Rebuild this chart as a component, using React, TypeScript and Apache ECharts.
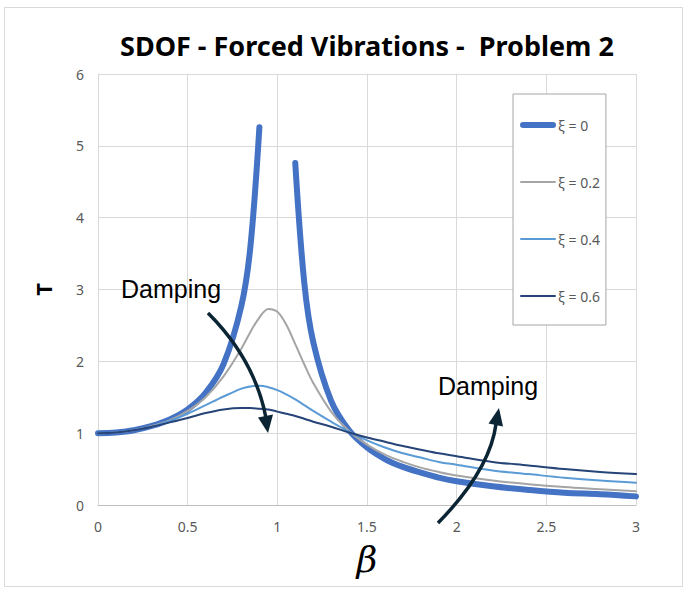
import React, { useEffect, useRef } from "react";
import * as echarts from "echarts";

// β values for the damped curves
const beta = [0, 0.1, 0.2, 0.3, 0.4, 0.5, 0.6, 0.7, 0.8, 0.85, 0.9, 0.95, 1.0, 1.05, 1.1, 1.15, 1.2, 1.3, 1.4, 1.5, 1.6, 1.7, 1.8, 1.9, 2.0, 2.2, 2.4, 2.6, 2.8, 3.0];
// β values for the undamped curve (gap at resonance)
const betaU = [0, 0.1, 0.2, 0.3, 0.4, 0.5, 0.6, 0.7, 0.8, 0.85, 0.9, 1.0, 1.1, 1.15, 1.2, 1.3, 1.4, 1.5, 1.6, 1.7, 1.8, 1.9, 2.0, 2.2, 2.4, 2.6, 2.8, 3.0];

const tXi0 = [1.0, 1.01, 1.04, 1.1, 1.19, 1.33, 1.56, 1.96, 2.78, 3.6, 5.26, null, 4.76, 3.1, 2.27, 1.45, 1.04, 0.8, 0.64, 0.53, 0.45, 0.38, 0.33, 0.26, 0.21, 0.17, 0.15, 0.12];
const tXi02 = [1.0, 1.01, 1.04, 1.1, 1.18, 1.31, 1.5, 1.79, 2.18, 2.41, 2.61, 2.73, 2.69, 2.51, 2.24, 1.96, 1.7, 1.3, 1.03, 0.84, 0.7, 0.6, 0.52, 0.46, 0.41, 0.34, 0.29, 0.25, 0.22, 0.19];
const tXi04 = [1.0, 1.01, 1.04, 1.09, 1.17, 1.27, 1.39, 1.51, 1.62, 1.65, 1.66, 1.64, 1.6, 1.54, 1.47, 1.39, 1.31, 1.16, 1.02, 0.9, 0.8, 0.72, 0.66, 0.6, 0.56, 0.48, 0.43, 0.38, 0.34, 0.31];
const tXi06 = [1.0, 1.01, 1.04, 1.09, 1.15, 1.21, 1.28, 1.33, 1.35, 1.35, 1.34, 1.33, 1.3, 1.27, 1.24, 1.2, 1.16, 1.09, 1.01, 0.94, 0.88, 0.82, 0.77, 0.72, 0.68, 0.6, 0.55, 0.5, 0.46, 0.43];

const seriesNames = ["ξ = 0", "ξ = 0.2", "ξ = 0.4", "ξ = 0.6"];
const xTicks = ["0", "0.5", "1", "1.5", "2", "2.5", "3"];
const yTicks = ["0", "1", "2", "3", "4", "5", "6"];

const titleText = "SDOF - Forced Vibrations -  Problem 2";
const annotation = "Damping";

const pair = (xs: number[], ys: (number | null)[]) =>
  xs.map((x, i) => [x, ys[i] === null ? "-" : ys[i]]);

export default function App() {
  const ref = useRef<HTMLDivElement>(null);
  useEffect(() => {
    if (!ref.current) return;
    const chart = echarts.init(ref.current, null, { renderer: "svg" });
    const arrowColor = "#0B2535";
    const lineSeries = (name: string, data: any[], color: string, width: number, z: number) => ({
      name,
      type: "line",
      data,
      smooth: 0.35,
      symbol: "none",
      showSymbol: false,
      connectNulls: false,
      z,
      lineStyle: { color, width, cap: "round" },
      itemStyle: { color },
    });
    const thickIcon = "path://M3,0L33,0A3,3,0,0,1,33,6L3,6A3,3,0,0,1,3,0Z";
    const thinIcon = "path://M1,0L35,0A1,1,0,0,1,35,2L1,2A1,1,0,0,1,1,0Z";
    chart.setOption({
      animation: false,
      backgroundColor: "#ffffff",
      title: {
        text: titleText,
        left: 115,
        top: 27,
        textStyle: { fontFamily: "Noto Sans", fontWeight: "bold", fontSize: 27, color: "#000000" },
      },
      legend: {
        orient: "vertical",
        left: 513,
        top: 94,
        padding: [24, 6, 22, 7],
        itemGap: 43,
        itemWidth: 36,
        itemHeight: 14,
        backgroundColor: "#ffffff",
        borderColor: "#A6A6A6",
        borderWidth: 1,
        textStyle: { fontFamily: "Noto Sans", fontSize: 14, color: "#595959", padding: [0, 0, 0, -3] },
        data: seriesNames.map((n, i) => ({ name: n, icon: i === 0 ? thickIcon : thinIcon })),
      },
      grid: { left: 98, right: 51, top: 74, bottom: 87, containLabel: false },
      xAxis: {
        type: "value",
        min: 0,
        max: 3,
        interval: 0.5,
        name: "β",
        nameLocation: "middle",
        nameGap: 36,
        nameTextStyle: { fontFamily: "DejaVu Serif", fontStyle: "italic", fontSize: 36, color: "#000000" },
        axisLine: { show: true, lineStyle: { color: "#BFBFBF", width: 1 } },
        axisTick: { show: false },
        axisLabel: {
          margin: 14,
          fontFamily: "Noto Sans",
          fontSize: 14,
          color: "#595959",
          formatter: (v: number) => xTicks[Math.round(v * 2)] ?? String(v),
        },
        splitLine: { show: true, lineStyle: { color: "#D9D9D9", width: 1 } },
      },
      yAxis: {
        type: "value",
        min: 0,
        max: 6,
        interval: 1,
        name: "T",
        nameLocation: "middle",
        nameGap: 44,
        nameTextStyle: { fontFamily: "Noto Sans", fontWeight: "bold", fontSize: 22, color: "#000000" },
        axisLine: { show: true, lineStyle: { color: "#D9D9D9", width: 1 } },
        axisTick: { show: false },
        axisLabel: {
          margin: 14,
          fontFamily: "Noto Sans",
          fontSize: 14,
          color: "#595959",
          formatter: (v: number) => yTicks[Math.round(v)] ?? String(v),
        },
        splitLine: { show: true, lineStyle: { color: "#D9D9D9", width: 1 } },
      },
      series: [
        lineSeries(seriesNames[0], pair(betaU, tXi0), "#4472C4", 6, 2),
        lineSeries(seriesNames[1], pair(beta, tXi02), "#A5A5A5", 2, 3),
        lineSeries(seriesNames[2], pair(beta, tXi04), "#5B9BD5", 2, 4),
        lineSeries(seriesNames[3], pair(beta, tXi06), "#264478", 2, 5),
      ],
      graphic: [
        {
          type: "rect",
          z: -10,
          silent: true,
          shape: { x: 4.5, y: 7.5, width: 678, height: 579 },
          style: { fill: "none", stroke: "#D9D9D9", lineWidth: 1 },
        },
        {
          type: "text",
          z: 20,
          x: 121,
          y: 289,
          style: { text: annotation, font: "25px 'Liberation Sans', Arial, sans-serif", fill: "#000000", verticalAlign: "middle" },
        },
        {
          type: "text",
          z: 20,
          x: 438,
          y: 386,
          style: { text: annotation, font: "25px 'Liberation Sans', Arial, sans-serif", fill: "#000000", verticalAlign: "middle" },
        },
        {
          type: "bezierCurve",
          z: 20,
          shape: { x1: 208, y1: 313, cpx1: 255, cpy1: 360, x2: 266, y2: 418 },
          style: { stroke: arrowColor, lineWidth: 3.5, fill: "none" },
        },
        {
          type: "polygon",
          z: 20,
          shape: { points: [[268, 433], [273, 414.5], [258, 417.5]] },
          style: { fill: arrowColor },
        },
        {
          type: "bezierCurve",
          z: 20,
          shape: { x1: 438, y1: 523, cpx1: 490, cpy1: 470, x2: 496, y2: 424 },
          style: { stroke: arrowColor, lineWidth: 3.5, fill: "none" },
        },
        {
          type: "polygon",
          z: 20,
          shape: { points: [[499, 408], [503, 426.5], [488.5, 423.5]] },
          style: { fill: arrowColor },
        },
      ],
    });
    return () => chart.dispose();
  }, []);
  return (
    <div
      ref={ref}
      style={{ position: "absolute", left: 0, top: 0, width: 687, height: 592, background: "#ffffff" }}
    />
  );
}
